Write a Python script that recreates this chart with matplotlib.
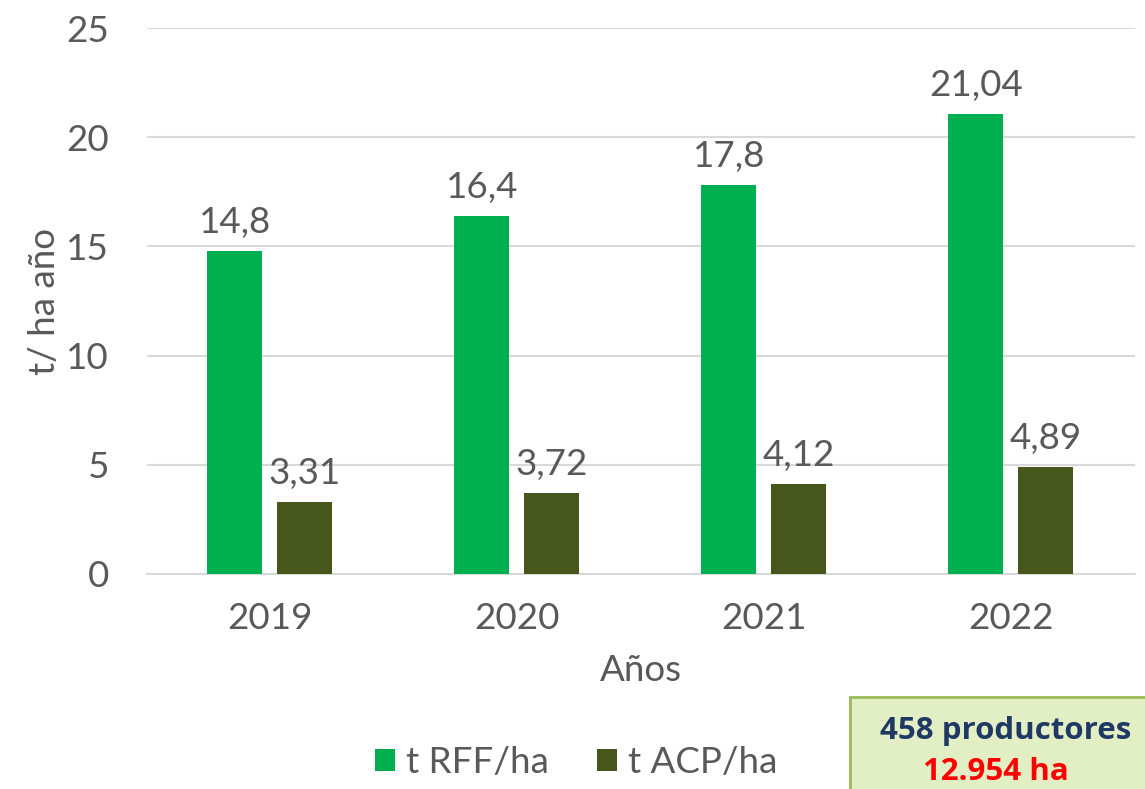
import matplotlib.pyplot as plt
import numpy as np
from matplotlib.patches import Rectangle

# datos
anios = ['2019', '2020', '2021', '2022']
rff = [14.8, 16.4, 17.8, 21.04]
acp = [3.31, 3.72, 4.12, 4.89]
rff_txt = ['14,8', '16,4', '17,8', '21,04']
acp_txt = ['3,31', '3,72', '4,12', '4,89']

gris = '#595959'
verde = '#00B050'
oliva = '#47561A'
fs = 26.5
plt.rcParams['font.family'] = ['Lato', 'DejaVu Sans']

fig = plt.figure(figsize=(11.45, 7.89), dpi=100)
ax = fig.add_axes([0.128, 0.2725, 0.863, 0.692])

x = np.arange(len(anios))
ancho = 0.223
b1 = ax.bar(x - 0.143, rff, ancho, color=verde, label='t RFF/ha', zorder=3)
b2 = ax.bar(x + 0.140, acp, ancho, color=oliva, label='t ACP/ha', zorder=3)

for i in range(len(anios)):
    ax.text(x[i] - 0.143, rff[i] + 0.55, rff_txt[i], ha='center', va='bottom',
            fontsize=fs, color=gris)
    ax.text(x[i] + 0.140, acp[i] + 0.55, acp_txt[i], ha='center', va='bottom',
            fontsize=fs, color=gris)

ax.set_xlim(-0.5, 3.5)
ax.set_ylim(0, 25)
ax.set_yticks([0, 5, 10, 15, 20, 25])
ax.set_xticks(x)
ax.set_xticklabels(anios)
ax.tick_params(axis='both', length=0, labelsize=fs, labelcolor=gris)
ax.tick_params(axis='y', pad=27)
ax.tick_params(axis='x', pad=20)
ax.grid(axis='y', color='#D9D9D9', linewidth=1.5, zorder=0)
for s in ['top', 'right', 'left']:
    ax.spines[s].set_visible(False)
ax.spines['bottom'].set_color('#D9D9D9')
ax.spines['bottom'].set_linewidth(1.5)

ax.set_xlabel('Años', fontsize=fs, color=gris, labelpad=14)
ax.set_ylabel('t/ ha año', fontsize=fs, color=gris, labelpad=4)

leg = fig.legend(handles=[b1, b2], loc='center', bbox_to_anchor=(0.503, 0.034),
                 ncol=2, frameon=False, fontsize=fs, labelcolor=gris,
                 handlelength=0.55, handleheight=0.55, handletextpad=0.3,
                 columnspacing=1.3)

# recuadro
caja = Rectangle((850 / 1145, -0.05), 0.3, 0.166, transform=fig.transFigure,
                 facecolor='#E2EFC5', edgecolor='#9BBB59', linewidth=2)
fig.patches.append(caja)
fig.text(1006 / 1145, 1 - 731 / 789, '458 productores', ha='center', va='center',
         fontsize=22.5, fontweight='bold', color='#1F3864', family=['Open Sans', 'DejaVu Sans'])
fig.text(996 / 1145, 1 - 772 / 789, '12.954 ha', ha='center', va='center',
         fontsize=22.5, fontweight='bold', color='#FF0000', family=['Open Sans', 'DejaVu Sans'])

fig.savefig('out.png', dpi=100)
